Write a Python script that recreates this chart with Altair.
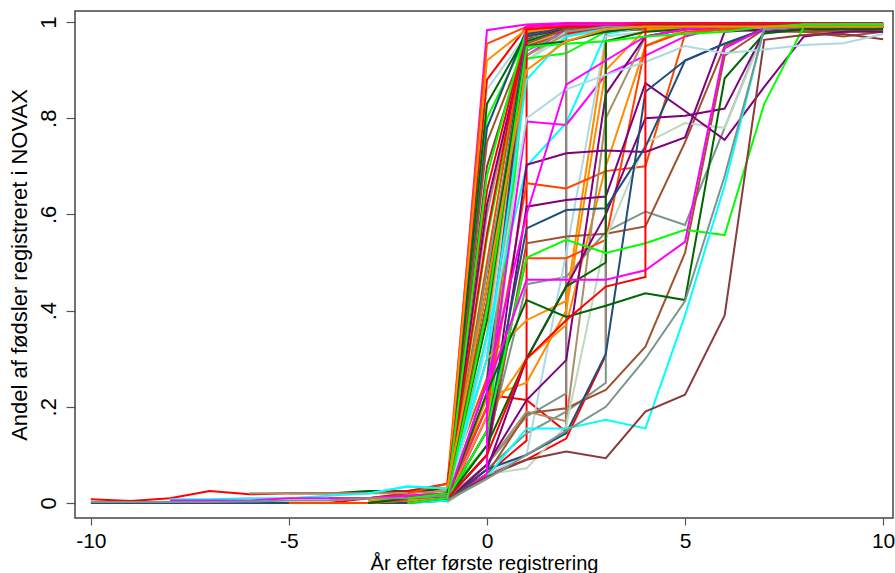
import altair as alt
import pandas as pd

# colour names used by the series
PALETTE = {
    "R": "#FF0000", "G": "#00FF00", "OR": "#FF4500", "MG": "#FF00FF",
    "CY": "#00FFFF", "OG": "#FF8C00", "DG": "#006400", "PU": "#800080",
    "SI": "#A0522D", "MR": "#8B3A3A", "LB": "#ADD8E6", "NV": "#1F4E79",
    "TG": "#7A968C", "TN": "#A8906A", "PG": "#BED8BE",
}

x_ticks = [-10, -5, 0, 5, 10]
y_ticks = [0, 0.2, 0.4, 0.6, 0.8, 1]

# each series: colour, first year, values from that year up to year 10
# (a pair means two observations at the same year)
series_colors = [
    "MG", "OR", "LB", "G", "NV", "SI", "R", "DG", "OG", "MR",
    "R", "TN", "G", "OR", "NV", "CY", "OG", "PU", "SI", "MG",
    "DG", "R", "TG", "LB", "G", "OR", "R", "OG", "MG", "PG",
    "SI", "G", "CY", "NV", "TN", "MG", "R", "R", "R", "TG",
    "TG", "TG", "LB", "OG", "OG", "OG", "OR", "OR", "SI", "SI",
    "TN", "PG", "PU", "PU", "PU", "PU", "NV", "NV", "DG", "DG",
    "G", "MG", "CY", "MR", "LB", "R", "TG", "MG", "CY", "DG",
    "G", "OG",
]
series_start = [
    -2, -3, -2, -7, -10, -3, -4, -5, -2, -3,
    -10, -6, -4, -5, -3, -8, -3, -2, -4, -8,
    -3, -2, -10, -1, -1, -2, -1, -2, -1, -1,
    -1, -2, -1, -1, -2, -1, -1, -2, -1, -1,
    -2, -1, -1, -1, -2, -1, -1, -1, -2, -1,
    -1, -1, -1, -1, -1, -1, -1, -1, -1, -1,
    -1, -1, -2, -2, -1, -1, -1, -1, -3, -1,
    -2, -1,
]
series_values = [
    [0, .02, .983, .995, .998, .998, .998, .998, .998, .998, .998, .998, .998],
    [.01, .02, .04, .955, .99, .995, .995, .997, .997, .997, .997, .997, .997, .997],
    [0, .01, .86, .975, .985, .99, .99, .99, .995, .995, .995, .995, .995],
    [0, 0, 0, 0, 0, .005, .02, .80, .97, .99, .995, .995, .995, .997, .997, .997, .997, .997],
    [0, 0, 0, 0, 0, 0, 0, 0, 0, .005, .78, .985, .99, .995, .995, .995, .997, .997, .997, .997, .997],
    [.01, .015, .02, .75, .96, .985, .99, .99, .99, .99, .99, .99, .99, .99],
    [0, .01, .02, .03, .88, .99, .995, .995, .997, .997, .997, .997, .997, .997, .997],
    [.02, .02, .025, .025, .03, .83, .975, .985, .99, .99, .99, .995, .995, .995, .995, .995],
    [.01, .03, .92, .985, .99, .99, .995, .995, .995, .995, .995, .995, .995],
    [0, .01, .02, .70, .965, .98, .985, .985, .99, .99, .99, .99, .99, .99],
    [.008, .004, .01, .025, .018, .02, .02, .02, .025, .04, .65, .98, .99, .995, .995, .995, .997, .997, .997, .997, .997],
    [.02, .02, .02, .02, .02, .025, .60, .97, .985, .99, .99, .99, .99, .99, .99, .99, .99],
    [0, 0, .005, .01, .55, .96, .99, .99, .995, .995, .995, .995, .995, .995, .995],
    [0, 0, 0, .005, .01, .50, .985, .99, .99, .995, .995, .995, .995, .995, .995, .995],
    [0, .01, .015, .45, .975, .99, .99, .99, .995, .995, .995, .995, .995, .995],
    [.008, .008, .01, .01, .015, .02, .035, .03, .40, .96, .985, .99, .99, .99, .99, .99, .99, .99, .99],
    [.005, .01, .02, .35, .95, .98, .985, .99, .99, .99, .99, .99, .99, .99],
    [.005, .015, .62, .97, .985, .99, .99, .99, .99, .99, .99, .99, .99],
    [.01, .01, .015, .02, .42, .95, .975, .98, .985, .985, .985, .98, .98, .97, .98],
    [.005, .005, .005, .01, .01, .01, .015, .02, .30, .93, .985, .99, .99, .995, .995, .995, .995, .995, .995],
    [0, .01, .02, .38, .96, .985, .99, .99, .99, .99, .99, .99, .99, .99],
    [.01, .02, .56, .99, .995, .995, .995, .995, .995, .995, .995, .995, .995],
    [.002, .002, .002, .002, .003, .005, .005, .01, .01, .015, .48, .94, .98, .99, .99, .99, .99, .99, .99, .99, .99],
    [.01, .33, .92, .97, .985, .99, .99, .99, .99, .99, .99, .99],
    [.02, .68, .985, .99, .995, .995, .995, .995, .995, .995, .995, .995],
    [.02, .04, .26, .97, .99, .995, .995, .995, .995, .995, .995, .995, .995],
    [.01, .10, .99, .995, .995, .997, .997, .997, .997, .997, .997, .997],
    [0, .01, .15, .98, .99, .99, .99, .99, .99, .99, .99, .99, .99],
    [.005, .18, .99, .995, .995, .995, .995, .995, .995, .995, .995, .995],
    [.005, .08, .92, .98, .99, .99, .99, .99, .99, .99, .99, .99],
    [.01, .20, .955, .985, .99, .99, .99, .99, .99, .99, .99, .99],
    [.01, .02, .12, .924, .935, .98, .99, .99, .99, .99, .99, .99, .99],
    [0, .35, .70, .79, .975, .99, .99, .99, .99, .99, .99, .99],
    [.01, .25, .97, .99, .99, .99, .99, .99, .99, .99, .99, .99],
    [0, .01, .22, .93, .975, .985, .99, .99, .99, .99, .99, .99, .99],
    [.01, .20, .793, .786, .89, .93, .97, .99, .99, .99, .99, .99],
    [.01, .06, [.13, .985], .99, .99, .995, .995, .995, .995, .995, .995, .995],
    [0, .01, .225, .214, [.148, .976], .99, .99, .99, .99, .99, .99, .99, .99],
    [.01, .06, .09, .134, [.307, .98], .99, .99, .99, .99, .99, .99, .99],
    [.01, .08, .18, [.228, .98], .99, .99, .99, .99, .99, .99, .99, .99],
    [.005, .01, .07, .145, .19, [.25, .985], .99, .99, .99, .99, .99, .99, .99],
    [.01, .12, .455, .47, .564, .606, .578, .78, .985, .99, .99, .99],
    [.005, .06, .10, .52, .97, .98, .985, .99, .99, .99, .99, .99],
    [.01, .30, .38, .42, .96, .98, .99, .99, .99, .99, .99, .99],
    [.005, .01, .22, .25, .40, .90, .985, .99, .99, .99, .99, .99, .99],
    [.01, .18, .30, .37, .70, .95, .985, .99, .99, .99, .99, .99],
    [.02, .20, .665, .654, .69, .70, .975, .985, .99, .99, .99, .99],
    [.01, .15, .509, .509, .547, .95, .98, .985, .99, .99, .99, .99],
    [0, .01, .10, .54, .554, .56, .575, .75, .95, .985, .985, .98, .985],
    [.005, .06, .186, .197, .235, .325, .52, .93, .985, .98, .98, .985],
    [.01, .08, .19, .17, .80, .97, .985, .99, .99, .99, .99, .99],
    [0, .06, .072, .16, .55, .748, .79, .78, .98, .99, .99, .99],
    [.01, .10, .616, .63, .637, .873, .815, .755, .865, .97, .98, .98],
    [.005, .07, .30, .45, .60, .80, .805, .82, .98, .985, .985, .985],
    [.01, .10, .703, .727, .733, .73, .76, .98, .985, .99, .99, .99],
    [.005, .08, .214, .297, .85, .97, .985, .99, .99, .99, .99, .99],
    [.01, .15, .571, .609, .613, .74, .92, .955, .985, .99, .99, .99],
    [.005, .07, .10, .145, .31, .855, .92, .955, .985, .99, .99, .99],
    [.01, .23, .422, .387, .41, .436, .422, .883, .976, .985, .985, .985],
    [.01, .12, .30, .45, [.5, .96], .98, .985, .99, .99, .99, .99, .99],
    [.01, .15, .51, .547, .52, .54, .568, .557, .83, .99, .995, .995],
    [.005, [.06, .24], .464, .464, .464, .484, .543, .945, .987, .99, .99, .99],
    [0, .005, .055, .155, .155, .173, .155, .39, .66, .987, .995, .995, .995],
    [0, .01, .055, .09, .107, .093, .19, .225, .39, .963, .973, .975, .964],
    [.01, .30, .80, .86, .89, .917, .95, .935, .943, .952, .956, .975],
    [.01, .10, .30, .38, .45, [.47, .99], .99, .99, .99, .99, .99, .99],
    [.005, .05, .10, .15, .20, .30, .42, .68, .985, .99, .99, .99],
    [.01, .25, .60, .87, .92, .97, .985, .99, .99, .99, .99, .99],
    [.02, .034, .03, .30, .88, .97, .985, .99, .99, .99, .99, .99, .99, .99],
    [.02, .45, .95, .96, .98, .99, .99, .99, .99, .99, .99, .99],
    [0, .01, .40, .948, .955, .96, .97, .975, .98, .99, .995, .995, .995],
    [.03, .45, .90, .96, .985, .99, .99, .99, .99, .99, .99, .99],
]

rows = []
for sid, (col, start, vals) in enumerate(zip(series_colors, series_start, series_values)):
    order = 0
    for i, v in enumerate(vals):
        year = start + i
        if year > 10:
            break
        pts = v if isinstance(v, list) else [v]
        for p in pts:
            rows.append({"s": f"s{sid:02d}", "year": year, "val": p, "ord": order})
            order += 1
df = pd.DataFrame(rows)

ids = [f"s{i:02d}" for i in range(len(series_colors))]
rng = [PALETTE[c] for c in series_colors]

FONT = "Liberation Sans"

chart = alt.Chart(df).mark_line(strokeWidth=2, clip=True).encode(
    x=alt.X("year:Q",
            scale=alt.Scale(domain=[-10.4, 10.25], nice=False, zero=False),
            axis=alt.Axis(values=x_ticks, title="År efter første registrering",
                          labelExpr="datum.value < 0 ? '-' + format(-datum.value, 'd') : format(datum.value, 'd')",
                          labelFlush=False, labelBaseline="alphabetic",
                          labelPadding=22, tickSize=7, labelFontSize=21,
                          titleY=51, titleFontSize=20,
                          titleBaseline="alphabetic")),
    y=alt.Y("val:Q",
            scale=alt.Scale(domain=[-0.0312, 1.0229], nice=False, zero=False),
            axis=alt.Axis(values=y_ticks, title="Andel af fødsler registreret i NOVAX",
                          labelExpr="datum.value == 0 ? '0' : (datum.value == 1 ? '1' : '.' + format(datum.value * 10, 'd'))",
                          labelAngle=270, labelAlign="center", labelBaseline="alphabetic",
                          labelPadding=11, tickSize=9, titleAngle=270,
                          titleBaseline="alphabetic", titleX=-49, labelFlush=False)),
    color=alt.Color("s:N", scale=alt.Scale(domain=ids, range=rng), legend=None),
    order=alt.Order("ord:Q"),
).properties(
    width=818, height=507,
    padding={"left": 75, "top": 11, "right": 2, "bottom": 55},
    autosize=alt.AutoSizeParams(type="none"),
    background="white",
).configure_view(
    stroke="#444444", strokeWidth=1.5,
).configure_axis(
    domain=False, grid=False, tickColor="#555555", tickWidth=1.2,
    labelFont=FONT, labelFontSize=22, labelColor="black",
    titleFont=FONT, titleFontSize=22, titleFontWeight="normal", titleColor="black",
    labelOverlap=False,
)

chart.save("out.html", embed_options={"renderer": "svg", "actions": False})
